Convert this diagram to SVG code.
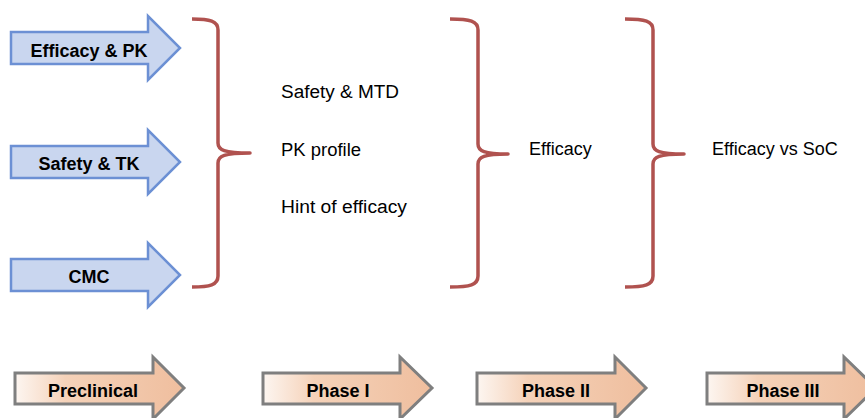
<svg xmlns="http://www.w3.org/2000/svg" width="865" height="418" viewBox="0 0 865 418">
<defs>
<linearGradient id="peach" x1="0" y1="0" x2="1" y2="0">
<stop offset="0" stop-color="#fdf6f1"/>
<stop offset="0.3" stop-color="#f5d2b9"/>
<stop offset="1" stop-color="#efbe9e"/>
</linearGradient>
<style>
.blue{fill:#c9d6ef;stroke:#6c90d4;stroke-width:2.5;stroke-linejoin:miter}
.phase{fill:url(#peach);stroke:#7f7f7f;stroke-width:3;stroke-linejoin:miter}
.brace{fill:none;stroke:#b0524f;stroke-width:3.5;stroke-linecap:butt;stroke-linejoin:round}
.bold{font-family:"Liberation Sans",Arial,sans-serif;font-weight:bold;font-size:18px;fill:#000;text-anchor:middle}
.reg{font-family:"Liberation Sans",Arial,sans-serif;font-size:18px;fill:#000}
</style>
</defs>
<rect width="865" height="418" fill="#fff"/>

<g id="efficacy-pk">
<path class="blue" d="M11,32 L148,32 L148,16 L180,48 L148,80 L148,64 L11,64 Z"/>
<text class="bold" x="89" y="57">Efficacy &amp; PK</text>
</g>
<g id="safety-tk">
<path class="blue" d="M11,146 L148,146 L148,130 L180,162 L148,194 L148,178 L11,178 Z"/>
<text class="bold" x="89" y="170">Safety &amp; TK</text>
</g>
<g id="cmc">
<path class="blue" d="M11,259 L148,259 L148,243 L180,275 L148,307 L148,291 L11,291 Z"/>
<text class="bold" x="89" y="283">CMC</text>
</g>

<g id="connectors">
<path class="brace" d="M192,19 C210,19 218,21 218,30 L218,143 C218,150 224,153 250,153 C224,153 218,156 218,163 L218,276 C218,285 210,287 192,287"/>
<path class="brace" d="M450,19 C470,19 478,21 478,30 L478,144 C478,151 484,154 508,154 C484,154 478,157 478,164 L478,276 C478,285 470,287 450,287"/>
<path class="brace" d="M625,19 C645,19 653,21 653,30 L653,144 C653,151 659,154 684,154 C659,154 653,157 653,164 L653,276 C653,285 645,287 625,287"/>
</g>

<g id="phase1-goals">
<text class="reg" x="281" y="98" textLength="118" lengthAdjust="spacingAndGlyphs">Safety &amp; MTD</text>
<text class="reg" x="281" y="156" textLength="80" lengthAdjust="spacingAndGlyphs">PK profile</text>
<text class="reg" x="281" y="213" textLength="126" lengthAdjust="spacingAndGlyphs">Hint of efficacy</text>
</g>
<g id="phase2-goal">
<text class="reg" x="529" y="155">Efficacy</text>
</g>
<g id="phase3-goal">
<text class="reg" x="712" y="155">Efficacy vs SoC</text>
</g>

<g id="preclinical">
<path class="phase" d="M15,373 L153,373 L153,357 L184,388 L153,419 L153,404 L15,404 Z"/>
<text class="bold" x="93" y="397">Preclinical</text>
</g>
<g id="phase-i">
<path class="phase" d="M263,373 L400,373 L400,357 L432,388 L400,419 L400,404 L263,404 Z"/>
<text class="bold" x="338" y="397">Phase I</text>
</g>
<g id="phase-ii">
<path class="phase" d="M477,373 L615,373 L615,357 L646,388 L615,419 L615,404 L477,404 Z"/>
<text class="bold" x="556" y="397">Phase II</text>
</g>
<g id="phase-iii">
<path class="phase" d="M707,373 L844,373 L844,357 L876,388 L844,419 L844,404 L707,404 Z"/>
<text class="bold" x="783" y="397">Phase III</text>
</g>
</svg>
